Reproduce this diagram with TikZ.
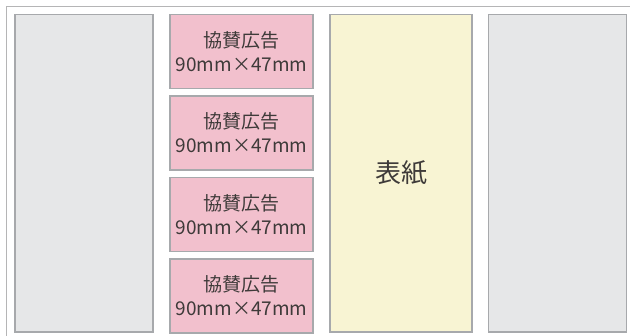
\documentclass[tikz,border=0pt]{standalone}
\usepackage{fontspec}
\setmainfont{Noto Sans CJK JP}
\definecolor{panelgrey}{HTML}{E6E7E8}
\definecolor{adpink}{HTML}{F2C0CD}
\definecolor{coveryellow}{HTML}{F8F4D3}
\definecolor{edgegrey}{HTML}{A7A9AC}
\definecolor{framegrey}{HTML}{B5B5B6}
\definecolor{inkgrey}{HTML}{3E3A39}
\tikzset{
  panel/.style={draw=edgegrey, line width=1.3pt, rectangle, inner sep=0pt, text=inkgrey, font=\fontsize{19}{24}\selectfont, align=center},
  greypanel/.style={panel, fill=panelgrey, minimum width=138pt, minimum height=317.5pt},
  adbox/.style={panel, fill=adpink, minimum width=143pt, minimum height=74pt},
  coverbox/.style={panel, fill=coveryellow, minimum width=142pt, minimum height=317.5pt, font=\fontsize{26}{30}\selectfont}
}
\begin{document}
\begin{tikzpicture}[x=1pt,y=-1pt]
\clip (0,0) rectangle (630,336);
\fill[white] (0,0) rectangle (630,336);
\draw[framegrey, line width=1.3pt] (6.5,6.5) rectangle (650,360);
\node[greypanel] (left) at (84,173.25) {};
\node[adbox] (ad1) at (241.5,51.5) {協賛広告\\90mm×47mm};
\node[adbox] (ad2) at (241.5,133) {協賛広告\\90mm×47mm};
\node[adbox] (ad3) at (241.5,214.5) {協賛広告\\90mm×47mm};
\node[adbox] (ad4) at (241.5,296) {協賛広告\\90mm×47mm};
\node[coverbox] (cover) at (401,173.25) {表紙};
\node[greypanel] (right) at (557.5,173.25) {};
\end{tikzpicture}
\end{document}
